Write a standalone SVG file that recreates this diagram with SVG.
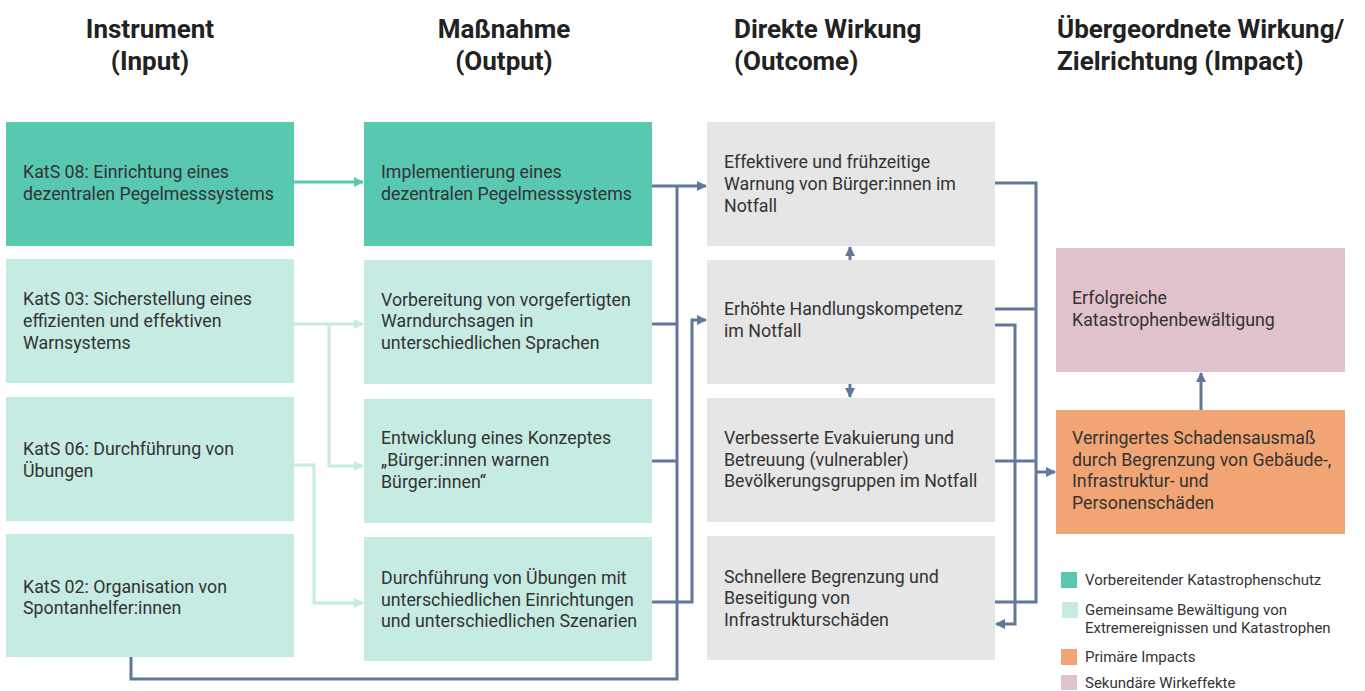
<svg xmlns="http://www.w3.org/2000/svg" width="1365" height="691" viewBox="0 0 1365 691">
<defs>
<style>
.h{font-family:Roboto,"Liberation Sans",sans-serif;font-weight:bold;font-size:26px;fill:#222}
.t{font-family:Roboto,"Liberation Sans",sans-serif;font-size:17.8px;fill:#333}
.l{font-family:Roboto,"Liberation Sans",sans-serif;font-size:15px;fill:#333}
.dk{fill:#58c8b0}
.lt{fill:#c6ebe3}
.gr{fill:#e6e6e6}
.pk{fill:#dfc2cb}
.or{fill:#f2a574}
.cb{fill:none;stroke:#607899;stroke-width:3}
.cd{fill:none;stroke:#58c8b0;stroke-width:3}
.cl{fill:none;stroke:#c6ebe3;stroke-width:3}
</style>
<marker id="ab" markerUnits="userSpaceOnUse" markerWidth="12" markerHeight="12" refX="9" refY="6" orient="auto"><path d="M0,1 L10,6 L0,11 z" fill="#607899"/></marker>
<marker id="ad" markerUnits="userSpaceOnUse" markerWidth="12" markerHeight="12" refX="9" refY="6" orient="auto"><path d="M0,1 L10,6 L0,11 z" fill="#58c8b0"/></marker>
<marker id="al" markerUnits="userSpaceOnUse" markerWidth="12" markerHeight="12" refX="9" refY="6" orient="auto"><path d="M0,1 L10,6 L0,11 z" fill="#c6ebe3"/></marker>
</defs>
<rect width="1365" height="691" fill="#fff"/>
<g id="headings">
<text class="h" x="150" y="38" text-anchor="middle">Instrument</text>
<text class="h" x="150" y="70" text-anchor="middle">(Input)</text>
<text class="h" x="504" y="38" text-anchor="middle">Maßnahme</text>
<text class="h" x="504" y="70" text-anchor="middle">(Output)</text>
<text class="h" x="734" y="38">Direkte Wirkung</text>
<text class="h" x="734" y="70">(Outcome)</text>
<text class="h" x="1057" y="38">Übergeordnete Wirkung/</text>
<text class="h" x="1057" y="70">Zielrichtung (Impact)</text>
</g>
<g id="connectors">
<path class="cd" d="M294,182 H363" marker-end="url(#ad)"/>
<path class="cl" d="M294,324 H363" marker-end="url(#al)"/>
<path class="cl" d="M329,324 V466 H363" marker-end="url(#al)"/>
<path class="cl" d="M294,465 H314 V603 H363" marker-end="url(#al)"/>
<path class="cb" d="M652,186 H706" marker-end="url(#ab)"/>
<path class="cb" d="M677,186 V679 H131 V657"/>
<path class="cb" d="M652,324 H677 M652,461 H677"/>
<path class="cb" d="M652,602 H692 V320 H706" marker-end="url(#ab)"/>
<path class="cb" d="M995,183 H1036 V602 H995 M995,309 H1036 M995,461 H1036"/>
<path class="cb" d="M1036,472 H1055" marker-end="url(#ab)"/>
<path class="cb" d="M995,325 H1015 V624 H996" marker-end="url(#ab)"/>
<path class="cb" d="M850,260 V247" marker-end="url(#ab)"/>
<path class="cb" d="M850,384 V397" marker-end="url(#ab)"/>
<path class="cb" d="M1201,410 V373" marker-end="url(#ab)"/>
</g>
<g id="in1"><rect class="dk" x="6" y="122" width="288" height="124"/><text class="t" x="23" y="178">KatS 08: Einrichtung eines</text><text class="t" x="23" y="200">dezentralen Pegelmesssystems</text></g>
<g id="in2"><rect class="lt" x="6" y="259" width="288" height="124"/><text class="t" x="23" y="305">KatS 03: Sicherstellung eines</text><text class="t" x="23" y="327">effizienten und effektiven</text><text class="t" x="23" y="349">Warnsystems</text></g>
<g id="in3"><rect class="lt" x="6" y="397" width="288" height="124"/><text class="t" x="23" y="455">KatS 06: Durchführung von</text><text class="t" x="23" y="477">Übungen</text></g>
<g id="in4"><rect class="lt" x="6" y="534" width="288" height="123"/><text class="t" x="23" y="593">KatS 02: Organisation von</text><text class="t" x="23" y="614">Spontanhelfer:innen</text></g>
<g id="out1"><rect class="dk" x="364" y="122" width="288" height="124"/><text class="t" x="381" y="178">Implementierung eines</text><text class="t" x="381" y="200">dezentralen Pegelmesssystems</text></g>
<g id="out2"><rect class="lt" x="364" y="260" width="288" height="124"/><text class="t" x="381" y="306">Vorbereitung von vorgefertigten</text><text class="t" x="381" y="327">Warndurchsagen in</text><text class="t" x="381" y="349">unterschiedlichen Sprachen</text></g>
<g id="out3"><rect class="lt" x="364" y="399" width="288" height="124"/><text class="t" x="381" y="444">Entwicklung eines Konzeptes</text><text class="t" x="381" y="466">„Bürger:innen warnen</text><text class="t" x="381" y="488">Bürger:innen“</text></g>
<g id="out4"><rect class="lt" x="364" y="537" width="288" height="124"/><text class="t" x="381" y="584">Durchführung von Übungen mit</text><text class="t" x="381" y="606">unterschiedlichen Einrichtungen</text><text class="t" x="381" y="627">und unterschiedlichen Szenarien</text></g>
<g id="oc1"><rect class="gr" x="707" y="122" width="288" height="124"/><text class="t" x="724" y="168">Effektivere und frühzeitige</text><text class="t" x="724" y="190">Warnung von Bürger:innen im</text><text class="t" x="724" y="212">Notfall</text></g>
<g id="oc2"><rect class="gr" x="707" y="260" width="288" height="124"/><text class="t" x="724" y="315">Erhöhte Handlungskompetenz</text><text class="t" x="724" y="337">im Notfall</text></g>
<g id="oc3"><rect class="gr" x="707" y="398" width="288" height="124"/><text class="t" x="724" y="444">Verbesserte Evakuierung und</text><text class="t" x="724" y="466">Betreuung (vulnerabler)</text><text class="t" x="724" y="487">Bevölkerungsgruppen im Notfall</text></g>
<g id="oc4"><rect class="gr" x="707" y="536" width="288" height="124"/><text class="t" x="724" y="583">Schnellere Begrenzung und</text><text class="t" x="724" y="604">Beseitigung von</text><text class="t" x="724" y="626">Infrastrukturschäden</text></g>
<g id="im1"><rect class="pk" x="1056" y="248" width="289" height="124"/><text class="t" x="1072" y="304">Erfolgreiche</text><text class="t" x="1072" y="326">Katastrophenbewältigung</text></g>
<g id="im2"><rect class="or" x="1056" y="410" width="289" height="124"/><text class="t" x="1072" y="444">Verringertes Schadensausmaß</text><text class="t" x="1072" y="466">durch Begrenzung von Gebäude-,</text><text class="t" x="1072" y="487">Infrastruktur- und</text><text class="t" x="1072" y="509">Personenschäden</text></g>
<g id="legend">
<rect class="dk" x="1061" y="572" width="16" height="16"/><text class="l" x="1085" y="585">Vorbereitender Katastrophenschutz</text>
<rect class="lt" x="1062" y="602" width="16" height="16"/><text class="l" x="1085" y="615">Gemeinsame Bewältigung von</text><text class="l" x="1085" y="633">Extremereignissen und Katastrophen</text>
<rect class="or" x="1061" y="649" width="16" height="16"/><text class="l" x="1085" y="662">Primäre Impacts</text>
<rect class="pk" x="1061" y="675" width="16" height="15"/><text class="l" x="1085" y="688">Sekundäre Wirkeffekte</text>
</g>
</svg>
